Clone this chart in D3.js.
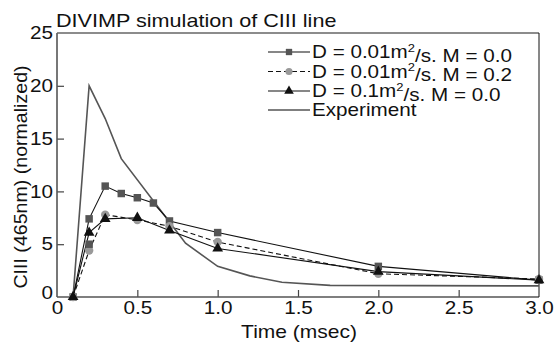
<!DOCTYPE html>
<html>
<head>
<meta charset="utf-8">
<script src="https://cdn.jsdelivr.net/npm/d3@7"></script>
<style>
  body { margin: 0; background: #fff; }
  svg text { font-family: "Liberation Sans", Arial, sans-serif; fill: #111; }
</style>
</head>
<body>
<div id="chart"></div>
<script>
// data
const xTicks = [0, 0.5, 1.0, 1.5, 2.0, 2.5, 3.0];
const yTicks = [0, 5, 10, 15, 20, 25];

const sqTime = [0.1, 0.2, 0.3, 0.4, 0.5, 0.6, 0.7, 1.0, 2.0, 3.0];
const sqVals = [0, 7.4, 10.5, 9.8, 9.4, 8.9, 7.2, 6.1, 2.9, 1.6];

const ciTime = [0.1, 0.2, 0.3, 0.5, 0.7, 1.0, 2.0, 3.0];
const ciVals = [0, 4.4, 7.8, 7.3, 6.7, 5.2, 2.2, 1.7];

const trTime = [0.1, 0.2, 0.3, 0.5, 0.7, 1.0, 2.0, 3.0];
const trVals = [0, 6.1, 7.4, 7.5, 6.3, 4.6, 2.4, 1.6];

// stray square marker near t = 0.2
const extraSqTime = [0.2];
const extraSqVals = [5.0];

const expTime = [0.1, 0.2, 0.3, 0.4, 0.7, 0.8, 1.0, 1.2, 1.4, 1.7, 3.0];
const expVals = [0, 20.0, 16.9, 13.1, 7.1, 5.1, 2.9, 2.0, 1.4, 1.1, 1.05];

const legendLabels = [
    ["D = 0.01m", "2", "/s. M = 0.0"],
    ["D = 0.01m", "2", "/s. M = 0.2"],
    ["D = 0.1m", "2", "/s. M = 0.0"],
    ["Experiment", "", ""]
];

const W = 555, H = 342;
const margin = {top: 33, right: 16, bottom: 45, left: 57};

let svg = d3.select("#chart").append("svg")
    .attr("width", W)
    .attr("height", H);

let x = d3.scaleLinear().domain([0, 3]).range([margin.left, W - margin.right]);
let y = d3.scaleLinear().domain([0, 25]).range([H - margin.bottom, margin.top]);

let zip = (ts, vs) => ts.map((t, i) => [t, vs[i]]);

// the reference type is wider than Liberation Sans, stretch it a bit
function stretch(sel, s) {
    sel.each(function() {
        let t = d3.select(this);
        let tx = +t.attr("x") || 0, ty = +t.attr("y") || 0;
        t.attr("x", 0).attr("y", 0)
            .attr("transform", `translate(${tx},${ty}) scale(${s},1)`);
    });
}

// axes
let xAxis = d3.axisBottom(x)
    .tickValues(xTicks)
    .tickFormat(d => d === 0 ? "0" : d3.format(".1f")(d))
    .tickSizeInner(-7)
    .tickSizeOuter(0)
    .tickPadding(4);

let yAxis = d3.axisLeft(y)
    .tickValues(yTicks)
    .tickFormat(d3.format("d"))
    .tickSizeInner(-7)
    .tickSizeOuter(0)
    .tickPadding(4);

let gx = svg.append("g")
    .attr("transform", `translate(0,${y(0)})`)
    .call(xAxis);
let gy = svg.append("g")
    .attr("transform", `translate(${x(0)},0)`)
    .call(yAxis);

[gx, gy].forEach(g => {
    g.select(".domain").remove();
    g.selectAll("line").attr("stroke", "#444").attr("stroke-width", 1.2);
    g.selectAll("text").attr("font-size", 18).attr("fill", "#111");
    stretch(g.selectAll("text"), 1.15);
});
// hide end ticks sitting on the frame
gx.selectAll(".tick").filter(d => d === 0 || d === 3).select("line").remove();
gy.selectAll(".tick").filter(d => d === 0 || d === 25).select("line").remove();
gy.selectAll(".tick").filter(d => d === 0).select("text").attr("dy", "0.1em");

// frame
svg.append("line").attr("x1", x(0)).attr("x2", x(3)).attr("y1", y(0)).attr("y2", y(0))
    .attr("stroke", "#555").attr("stroke-width", 1.6);
svg.append("line").attr("x1", x(0)).attr("x2", x(0)).attr("y1", y(0)).attr("y2", y(25))
    .attr("stroke", "#555").attr("stroke-width", 1.6);
svg.append("line").attr("x1", x(0)).attr("x2", x(3)).attr("y1", y(25)).attr("y2", y(25))
    .attr("stroke", "#666").attr("stroke-width", 1.6);
svg.append("line").attr("x1", x(3)).attr("x2", x(3)).attr("y1", y(0)).attr("y2", y(25))
    .attr("stroke", "#111").attr("stroke-width", 1);

// titles
let title = svg.append("text")
    .attr("x", x(0) - 1)
    .attr("y", 27)
    .attr("font-size", 18)
    .text("DIVIMP simulation of CIII line");
stretch(title, 1.2);

let xTitle = svg.append("text")
    .attr("x", 299)
    .attr("y", 338)
    .attr("text-anchor", "middle")
    .attr("font-size", 17.5)
    .text("Time (msec)");
stretch(xTitle, 1.2);

svg.append("text")
    .attr("transform", `translate(27,177) rotate(-90) scale(1.12,1)`)
    .attr("text-anchor", "middle")
    .attr("font-size", 17.5)
    .text("CIII (465nm) (normalized)");

let line = d3.line().x(d => x(d[0])).y(d => y(d[1]));

// experiment
svg.append("path")
    .datum(zip(expTime, expVals))
    .attr("d", line)
    .attr("fill", "none")
    .attr("stroke", "#555")
    .attr("stroke-width", 1.6);

let series = [
    {data: zip(sqTime, sqVals), dash: null, marker: "square", fill: "#555"},
    {data: zip(ciTime, ciVals), dash: "5,3", marker: "circle", fill: "#999"},
    {data: zip(trTime, trVals), dash: null, marker: "triangle", fill: "#111"}
];

let symbolFor = {
    square: d3.symbol().type(d3.symbolSquare).size(56),
    circle: d3.symbol().type(d3.symbolCircle).size(56),
    triangle: d3.symbol().type(d3.symbolTriangle).size(50)
};

series.forEach(s => {
    svg.append("path")
        .datum(s.data)
        .attr("d", line)
        .attr("fill", "none")
        .attr("stroke", "#111")
        .attr("stroke-width", 1.1)
        .attr("stroke-dasharray", s.dash);
});

// markers: square first, circles, triangles on top
series.forEach(s => {
    svg.append("g").selectAll("path")
        .data(s.data)
        .join("path")
        .attr("transform", d => `translate(${x(d[0])},${y(d[1])})`)
        .attr("d", symbolFor[s.marker]())
        .attr("fill", s.fill);
});

svg.append("g").selectAll("path")
    .data(zip(extraSqTime, extraSqVals))
    .join("path")
    .attr("transform", d => `translate(${x(d[0])},${y(d[1])})`)
    .attr("d", symbolFor.square())
    .attr("fill", "#555");

// legend
let legend = svg.append("g");
let rowY = [52, 71.5, 91, 110];
let legendStyle = [
    {marker: d3.symbolSquare, fill: "#555", dash: null, stroke: "#111"},
    {marker: d3.symbolCircle, fill: "#999", dash: "5,3", stroke: "#111"},
    {marker: d3.symbolTriangle, fill: "#111", dash: null, stroke: "#111"},
    {marker: null, fill: null, dash: null, stroke: "#555"}
];

legendLabels.forEach((lab, i) => {
    let st = legendStyle[i];
    legend.append("line")
        .attr("x1", 268).attr("x2", 310)
        .attr("y1", rowY[i]).attr("y2", rowY[i])
        .attr("stroke", st.stroke)
        .attr("stroke-width", i === 3 ? 1.6 : 1.1)
        .attr("stroke-dasharray", st.dash);
    if (st.marker) {
        legend.append("path")
            .attr("transform", `translate(289,${rowY[i]})`)
            .attr("d", d3.symbol().type(st.marker).size(40)())
            .attr("fill", st.fill);
    }
    let t = legend.append("text")
        .attr("x", 312)
        .attr("y", rowY[i] + 6)
        .attr("font-size", 17.5);
    t.append("tspan").text(lab[0]);
    if (lab[1]) {
        t.append("tspan").attr("font-size", 11).attr("dy", "-0.55em").text(lab[1]);
        t.append("tspan").attr("dy", "0.55em").text(lab[2]);
    }
    stretch(t, 1.18);
});
</script>
</body>
</html>
